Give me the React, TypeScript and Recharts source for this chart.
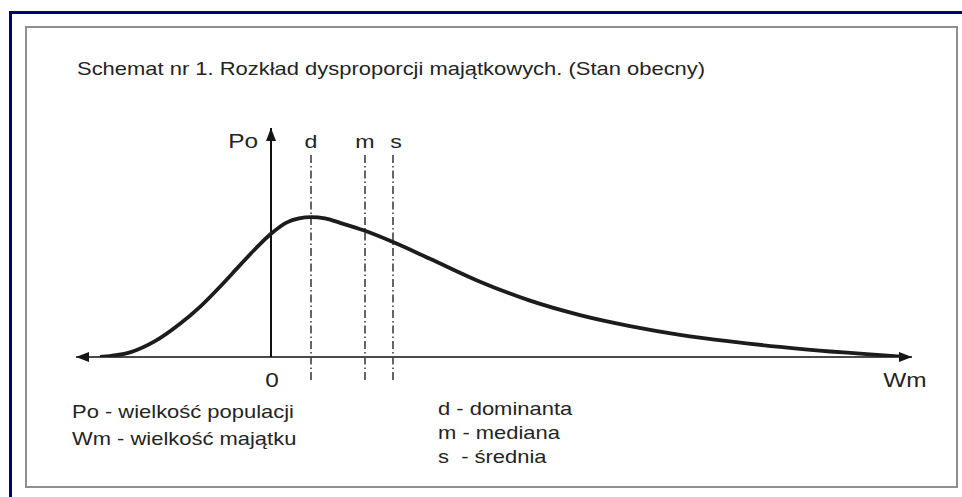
import React from 'react';
import { LineChart, Line, XAxis, YAxis, ReferenceLine } from 'recharts';

const wealth = [-17.1, -14.1, -11.6, -9.1, -7.1, -5.1, -3.1, -1.1, 0, 1.6, 2.8, 4.0, 5.4, 6.9, 9.4, 12.2, 15.9, 20.9, 25.9, 30.9, 35.9, 40.9, 45.9, 50.9, 55.9, 58.9, 63.4];
const population = [0, 2.0, 6.9, 14.5, 21.9, 30.7, 40.1, 49.3, 53.8, 58.8, 60.5, 61.1, 60.5, 58.6, 55.1, 50.2, 42.9, 32.9, 24.6, 18.3, 13.5, 9.7, 6.8, 4.4, 2.4, 1.5, 0];

// dominanta, mediana, srednia
const markerNames = ['d', 'm', 's'];
const markerAt = [4.0, 9.4, 12.2];

const xTicks = [0];
const title = 'Schemat nr 1. Rozkład dysproporcji majątkowych. (Stan obecny)';
const legendLeft = ['Po - wielkość populacji', 'Wm - wielkość majątku'];
const legendRight = ['d - dominanta', 'm - mediana', 's  - średnia'];

const data = wealth.map((x, i) => ({ x, po: population[i] }));

const W = 962;
const H = 497;
const INK = '#242424';
const FONT = '"Liberation Sans", Arial, sans-serif';
const STRETCH = 1.22;

const SText = ({ x, y, size, anchor = 'start', children }: any) => (
  <g transform={`translate(${x},${y}) scale(${STRETCH},1)`}>
    <text x={0} y={0} textAnchor={anchor} fontSize={size} fill={INK} fontFamily={FONT} style={{ whiteSpace: 'pre' }}>
      {children}
    </text>
  </g>
);

const arrowHead = (tx: number, ty: number, fx: number, fy: number) => {
  const a = Math.atan2(ty - fy, tx - fx);
  const len = 13;
  const half = 5;
  const bx = tx - len * Math.cos(a);
  const by = ty - len * Math.sin(a);
  const px = -Math.sin(a) * half;
  const py = Math.cos(a) * half;
  return `M${tx},${ty} L${bx + px},${by + py} L${bx - px},${by - py} Z`;
};

const arrowShape = (both: boolean) => (p: any) => {
  const { x1, y1, x2, y2, stroke, strokeWidth } = p;
  return (
    <g>
      <line x1={x1} y1={y1} x2={x2} y2={y2} stroke={stroke} strokeWidth={strokeWidth} />
      <path d={arrowHead(x2, y2, x1, y1)} fill="#151515" />
      {both && <path d={arrowHead(x1, y1, x2, y2)} fill="#151515" />}
    </g>
  );
};

const markerLabel = (name: string) => (p: any) => {
  const vb = p.viewBox;
  return (
    <SText x={vb.x + (name === 's' ? 3 : 0)} y={vb.y - 4} size={19} anchor="middle">
      {name}
    </SText>
  );
};

const poLabel = (p: any) => (
  <SText x={p.viewBox.x - 13} y={p.viewBox.y + 20} size={20} anchor="end">
    Po
  </SText>
);

const wmLabel = (p: any) => (
  <SText x={p.viewBox.x + p.viewBox.width - 7} y={p.viewBox.y + 30} size={20} anchor="middle">
    Wm
  </SText>
);

const ZeroTick = (p: any) => (
  <SText x={p.x + 1} y={p.y + 22} size={20} anchor="middle">
    {p.payload.value}
  </SText>
);

export default function App() {
  return (
    <div style={{ position: 'absolute', left: 0, top: 0, width: W, height: H, background: '#fff', overflow: 'hidden' }}>
      <div
        style={{
          position: 'absolute',
          left: 9,
          top: 11,
          width: W,
          height: H,
          borderTop: '3px solid #000080',
          borderLeft: '3px solid #000080',
        }}
      />
      <div
        style={{
          position: 'absolute',
          left: 25,
          top: 26,
          width: 933,
          height: 462,
          boxSizing: 'border-box',
          border: '2px solid #8f8f8f',
        }}
      />
      <div style={{ position: 'absolute', left: 0, top: 0 }}>
        <LineChart width={W} height={H} data={data} margin={{ top: 128, right: 50, bottom: 110, left: 76 }}>
          <XAxis
            type="number"
            dataKey="x"
            domain={[-19.5, 64.1]}
            allowDataOverflow
            ticks={xTicks}
            axisLine={false}
            tickLine={false}
            tick={ZeroTick}
            height={30}
          />
          <YAxis hide width={0} domain={[0, 100]} allowDataOverflow />
          {markerAt.map((mx, i) => (
            <ReferenceLine
              key={markerNames[i]}
              segment={[{ x: mx, y: -10 }, { x: mx, y: 89.5 }]}
              ifOverflow="visible"
              stroke="#333"
              strokeWidth={1.5}
              strokeDasharray="8 3 1.5 3"
              label={markerLabel(markerNames[i])}
            />
          ))}
          <ReferenceLine
            segment={[{ x: -19.5, y: 0 }, { x: 64.1, y: 0 }]}
            ifOverflow="visible"
            stroke="#4a4a4a"
            strokeWidth={2}
            shape={arrowShape(true)}
            label={wmLabel}
          />
          <ReferenceLine
            segment={[{ x: 0, y: 0 }, { x: 0, y: 100 }]}
            ifOverflow="visible"
            stroke="#111"
            strokeWidth={2}
            shape={arrowShape(false)}
            label={poLabel}
          />
          <Line
            type="monotone"
            dataKey="po"
            stroke="#1c1c1c"
            strokeWidth={3.8}
            dot={false}
            activeDot={false}
            isAnimationActive={false}
          />
        </LineChart>
      </div>
      <svg width={W} height={H} style={{ position: 'absolute', left: 0, top: 0, pointerEvents: 'none' }}>
        <SText x={77} y={75} size={18}>
          {title}
        </SText>
        {legendLeft.map((t, i) => (
          <SText key={t} x={72} y={418 + i * 27} size={18}>
            {t}
          </SText>
        ))}
        {legendRight.map((t, i) => (
          <SText key={t} x={438} y={415 + i * 24} size={18}>
            {t}
          </SText>
        ))}
      </svg>
    </div>
  );
}
